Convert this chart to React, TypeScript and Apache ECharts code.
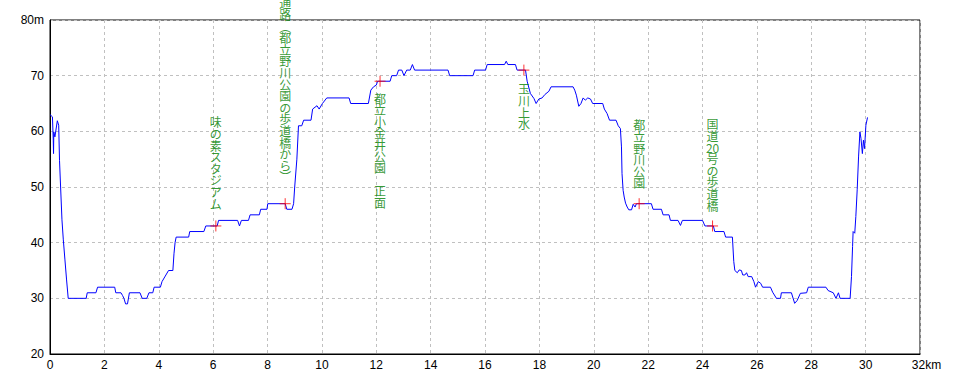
import React, { useEffect, useRef } from "react";
import * as echarts from "echarts";

// Elevation profile: [distance km, elevation m]
const profile: [number, number][] = [
  [0, 63], [0.09, 62.6], [0.12, 58.4], [0.13, 56], [0.14, 59.9], [0.18, 59], [0.27, 61.9], [0.32, 61.1],
  [0.35, 54.8], [0.39, 50], [0.44, 44.1], [0.49, 40.5], [0.55, 36.9], [0.61, 33.3], [0.67, 30],
  [1.33, 30], [1.37, 31], [1.69, 31], [1.75, 32], [2.38, 32], [2.42, 31], [2.61, 31], [2.67, 30.5],
  [2.72, 30], [2.78, 29], [2.85, 29], [2.92, 31], [3.31, 31], [3.39, 30], [3.56, 30], [3.64, 31],
  [3.78, 31], [3.83, 32], [4.06, 32], [4.12, 33], [4.24, 34], [4.36, 35], [4.52, 35], [4.56, 38],
  [4.6, 40], [4.64, 41], [5.1, 41], [5.14, 42], [5.66, 42], [5.73, 43], [6.15, 43], [6.2, 44],
  [6.9, 44], [6.97, 43], [7.04, 44], [7.3, 44], [7.36, 45], [7.7, 45], [7.75, 46], [7.98, 46],
  [8.01, 47], [8.65, 47], [8.71, 46], [8.9, 46], [8.96, 47], [9.0, 50], [9.08, 55], [9.14, 61],
  [9.26, 61], [9.33, 62], [9.6, 62], [9.66, 64], [9.82, 64.6], [9.9, 64], [10.02, 65], [10.18, 66],
  [11.0, 66], [11.06, 65], [11.71, 65], [11.8, 67.4], [11.9, 68], [12.0, 68.3], [12.05, 69],
  [12.51, 69], [12.57, 70], [12.75, 70], [12.82, 71], [12.94, 71], [13.02, 70], [13.12, 71],
  [13.25, 71], [13.33, 72], [13.41, 71], [14.64, 71], [14.7, 70], [15.56, 70], [15.62, 71],
  [16.02, 71], [16.08, 72], [16.72, 72], [16.78, 72.6], [16.84, 72], [17.12, 72], [17.18, 71],
  [17.49, 71], [17.55, 69], [17.67, 66.8], [17.8, 65.9], [17.88, 65], [17.98, 65.8], [18.1, 66],
  [18.2, 66.6], [18.35, 67.2], [18.43, 68], [19.24, 68], [19.3, 67.4], [19.36, 66.5], [19.45, 64.5],
  [19.53, 65], [19.61, 66], [19.69, 65.6], [19.78, 66], [19.88, 65.8], [19.96, 65], [20.33, 65],
  [20.39, 64], [20.49, 63.2], [20.58, 62], [20.82, 62], [20.9, 61], [20.98, 60.5], [21.02, 57.2],
  [21.04, 52.4], [21.08, 49.4], [21.12, 48.2], [21.17, 47.1], [21.23, 46.4], [21.29, 45.9],
  [21.39, 45.9], [21.45, 46.9], [21.52, 46.4], [21.57, 47], [22.12, 47], [22.18, 46], [22.49, 46],
  [22.55, 45], [22.77, 45], [22.82, 44], [23.1, 44], [23.19, 43.1], [23.26, 44], [24.0, 44],
  [24.09, 43], [24.4, 43], [24.45, 42], [24.79, 42], [24.85, 41], [25.1, 41], [25.15, 36.6],
  [25.19, 35], [25.28, 34.6], [25.35, 35.1], [25.43, 35], [25.48, 34.2], [25.56, 34.2], [25.62, 34.6],
  [25.68, 33.9], [25.81, 33.9], [25.89, 33], [25.95, 32], [26.05, 33], [26.14, 32.7], [26.21, 32],
  [26.5, 32], [26.58, 31.1], [26.72, 30], [26.87, 30], [26.9, 31], [27.27, 31], [27.39, 29.1],
  [27.48, 29.6], [27.6, 30.9], [27.83, 31], [27.89, 32], [28.54, 32], [28.62, 31.4], [28.81, 31],
  [28.91, 30], [29.0, 31], [29.06, 30], [29.43, 30], [29.48, 33.9], [29.52, 39.3], [29.54, 42],
  [29.6, 41.7], [29.64, 44.7], [29.69, 49.5], [29.74, 55.4], [29.79, 59.9], [29.83, 58.7],
  [29.88, 56], [29.92, 58.4], [29.96, 56.9], [30.01, 61.1], [30.07, 62.5],
];

// Landmarks: [km, m]
const markerPoints: [number, number][] = [
  [6.1, 43], [8.65, 47], [12.14, 69], [17.43, 71], [21.67, 47], [24.37, 43],
];
const markerNames: string[][] = [
  ["味", "の", "素", "ス", "タ", "ジ", "ア", "ム"],
  ["通", "路", "︵", "都", "立", "野", "川", "公", "園", "の", "歩", "道", "橋", "か", "ら", "︶"],
  ["都", "立", "小", "金", "井", "公", "園", "　", "正", "面"],
  ["玉", "川", "上", "水"],
  ["都", "立", "野", "川", "公", "園"],
  ["国", "道", "20", "号", "の", "歩", "道", "橋"],
];
const markerLabelPos: ("top" | "bottom")[] = ["top", "top", "bottom", "bottom", "top", "top"];
const markerLabelDist: number[] = [11, 15, 5, 7, 9, 9];

const xTicks = { min: 0, max: 32, interval: 2 };
const yTicks = { min: 20, max: 80, interval: 10 };

export default function App() {
  const ref = useRef<HTMLDivElement>(null);
  useEffect(() => {
    if (!ref.current) return;
    const chart = echarts.init(ref.current, undefined, { renderer: "svg" });
    const gridLine = { show: true, lineStyle: { color: "#c0c0c0", type: [3, 3] as any, width: 1 } };
    chart.setOption({
      animation: false,
      backgroundColor: "#ffffff",
      grid: {
        left: 50, right: 40, top: 20, bottom: 30,
        show: true, borderColor: "#000000", borderWidth: 1, backgroundColor: "transparent",
      },
      xAxis: {
        type: "value",
        min: xTicks.min, max: xTicks.max, interval: xTicks.interval,
        axisLine: { show: true, lineStyle: { color: "#000", width: 1 } },
        axisTick: { show: false },
        splitLine: gridLine,
        axisLabel: {
          color: "#000", fontSize: 12, fontFamily: "Liberation Sans, DejaVu Sans, sans-serif", margin: 5,
          formatter: (v: number) => (v === 32 ? "{sp|}32km" : String(v)),
          rich: { sp: { width: 13 } },
        },
      },
      yAxis: {
        type: "value",
        min: yTicks.min, max: yTicks.max, interval: yTicks.interval,
        axisLine: { show: true, lineStyle: { color: "#000", width: 1 } },
        axisTick: { show: false },
        splitLine: gridLine,
        axisLabel: {
          color: "#000", fontSize: 12, fontFamily: "Liberation Sans, DejaVu Sans, sans-serif", margin: 6,
          formatter: (v: number) => (v === 80 ? "80m" : String(v)),
        },
      },
      series: [
        {
          type: "line",
          data: profile,
          showSymbol: false,
          symbol: "none",
          lineStyle: { color: "#0000ff", width: 1 },
          silent: true,
          z: 2,
        },
        {
          type: "scatter",
          symbol: "path://M0,5L10,5M5,0L5,10",
          symbolSize: 11,
          itemStyle: { color: "rgba(0,0,0,0)", borderColor: "#ff0000", borderWidth: 1 },
          silent: true,
          z: 3,
          data: markerPoints.map((p, i) => ({
            value: p,
            label: {
              show: true,
              position: markerLabelPos[i],
              distance: markerLabelDist[i],
              formatter: markerNames[i].join("\n"),
              color: "#008000",
              fontSize: 12,
              lineHeight: 11.6,
              fontFamily: "Noto Sans CJK JP, sans-serif",
              align: "center",
            },
          })),
        },
      ],
    });
    return () => chart.dispose();
  }, []);
  return <div ref={ref} style={{ position: "absolute", left: 0, top: 0, width: 960, height: 384 }} />;
}
